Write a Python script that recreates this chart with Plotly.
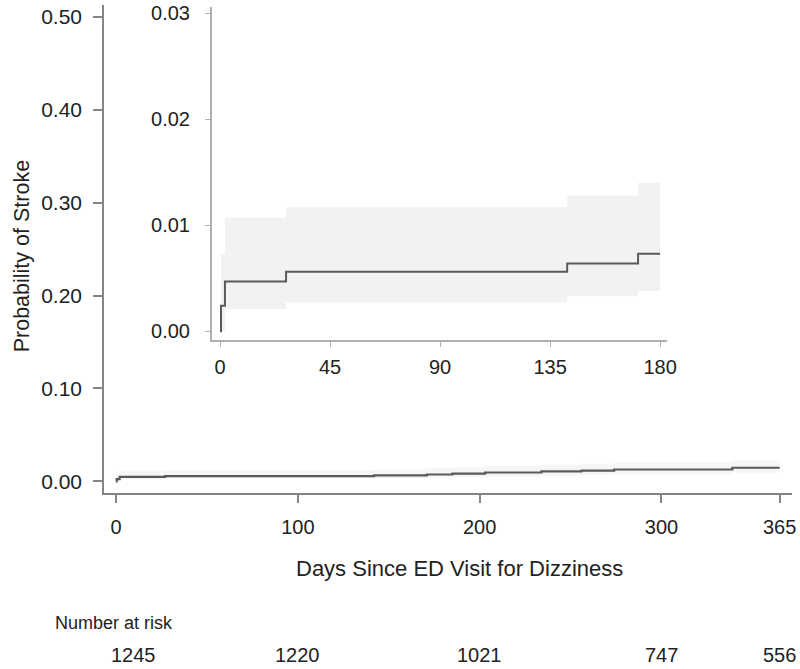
import plotly.graph_objects as go

# Kaplan-Meier style cumulative probability of stroke
days = [0, 0.4, 2, 27, 142, 171, 185, 203, 234, 256, 274, 339, 365]
prob = [0, 0.0024, 0.0047, 0.0056, 0.0064, 0.0073, 0.0083, 0.0095, 0.0106, 0.0114, 0.0127, 0.0146, 0.0146]
ci_low = [0, 0.0, 0.0021, 0.0027, 0.0033, 0.0038, 0.0045, 0.0053, 0.0061, 0.0067, 0.0077, 0.0092, 0.0092]
ci_high = [0, 0.0073, 0.0107, 0.0117, 0.0128, 0.0140, 0.0152, 0.0165, 0.0178, 0.0188, 0.0203, 0.0225, 0.0225]

main_ticks = [0, 100, 200, 300, 365]
main_yticks = [0.0, 0.1, 0.2, 0.3, 0.4, 0.5]
inset_ticks = [0, 45, 90, 135, 180]
inset_yticks = [0.0, 0.01, 0.02, 0.03]
inset_end = 180

risk_days = [0, 100, 200, 300, 365]
risk_n = [1245, 1220, 1021, 747, 556]

# inset data truncated at 180 days
idx = [i for i, d in enumerate(days) if d <= inset_end]
in_days = [days[i] for i in idx] + [inset_end]
in_prob = [prob[i] for i in idx] + [prob[idx[-1]]]
in_low = [ci_low[i] for i in idx] + [ci_low[idx[-1]]]
in_high = [ci_high[i] for i in idx] + [ci_high[idx[-1]]]

FONT = "Liberation Sans, Arial, sans-serif"
TXT = "#222222"
LINE = "#5a5a5a"

fig = go.Figure()

# main band + curve
fig.add_trace(go.Scatter(x=days, y=ci_low, mode="lines", line=dict(width=0, shape="hv"),
                         hoverinfo="skip", showlegend=False, xaxis="x", yaxis="y"))
fig.add_trace(go.Scatter(x=days, y=ci_high, mode="lines", line=dict(width=0, shape="hv"),
                         fill="tonexty", fillcolor="#f6f6f6", hoverinfo="skip",
                         showlegend=False, xaxis="x", yaxis="y"))
fig.add_trace(go.Scatter(x=days, y=prob, mode="lines", line=dict(color=LINE, width=2.2, shape="hv"),
                         showlegend=False, xaxis="x", yaxis="y"))

# inset band + curve
fig.add_trace(go.Scatter(x=in_days, y=in_low, mode="lines", line=dict(width=0, shape="hv"),
                         hoverinfo="skip", showlegend=False, xaxis="x2", yaxis="y2"))
fig.add_trace(go.Scatter(x=in_days, y=in_high, mode="lines", line=dict(width=0, shape="hv"),
                         fill="tonexty", fillcolor="#f2f2f2", hoverinfo="skip",
                         showlegend=False, xaxis="x2", yaxis="y2"))
fig.add_trace(go.Scatter(x=in_days, y=in_prob, mode="lines", line=dict(color=LINE, width=2, shape="hv"),
                         showlegend=False, xaxis="x2", yaxis="y2"))

annotations = [
    dict(text="Days Since ED Visit for Dizziness", x=0.5162, y=-0.1544, xref="paper", yref="paper",
         showarrow=False, xanchor="center", yanchor="middle", font=dict(size=22, color=TXT, family=FONT)),
    dict(text="Probability of Stroke", x=-0.1197, y=0.4843, xref="paper", yref="paper", textangle=-90,
         showarrow=False, xanchor="center", yanchor="middle", font=dict(size=21.5, color=TXT, family=FONT)),
    dict(text="Number at risk", x=-0.0742, y=-0.2672, xref="paper", yref="paper",
         showarrow=False, xanchor="left", yanchor="middle", font=dict(size=18, color=TXT, family=FONT)),
]
for i, (d, n) in enumerate(zip(risk_days, risk_n)):
    annotations.append(dict(text=str(n), x=d, y=-0.3318, xref="x", yref="paper", showarrow=False,
                            xanchor="center", yanchor="middle", xshift=17 if i == 0 else 0,
                            font=dict(size=20, color=TXT, family=FONT)))

fig.update_layout(
    width=800, height=669,
    margin=dict(l=104, r=8.3, t=5, b=176.3),
    paper_bgcolor="white", plot_bgcolor="white",
    font=dict(family=FONT, color=TXT),
    xaxis=dict(domain=[0, 1], range=[-6.6, 371.8], tickmode="array", tickvals=main_ticks,
               showline=True, linecolor="#858585", linewidth=1.5, ticks="outside", ticklen=8,
               tickcolor="#858585", tickwidth=1.5, showgrid=False, zeroline=False, automargin=False,
               ticklabeloverflow="allow",
               ticklabelstandoff=7, tickfont=dict(size=20, color=TXT, family=FONT)),
    yaxis=dict(domain=[0, 1], range=[-0.0126, 0.5129], tickmode="array", tickvals=main_yticks,
               tickformat=".2f", showline=True, linecolor="#858585", linewidth=1.5, ticks="outside",
               ticklen=9, tickcolor="#858585", tickwidth=1.5, showgrid=False, zeroline=False,
               automargin=False, ticklabeloverflow="allow",
               ticklabelstandoff=7, tickfont=dict(size=21, color=TXT, family=FONT)),
    xaxis2=dict(domain=[0.1566, 0.8182], anchor="y2", range=[-3.4, 182.8], tickmode="array",
                tickvals=inset_ticks, showline=True, linecolor="#b0b0b0", linewidth=1.5,
                ticks="outside", ticklen=5, tickcolor="#b0b0b0", showgrid=False, zeroline=False,
                automargin=False, ticklabeloverflow="allow",
                ticklabelstandoff=3, tickfont=dict(size=20, color=TXT, family=FONT)),
    yaxis2=dict(domain=[0.3131, 0.9959], anchor="x2", range=[-0.00085, 0.0306], tickmode="array",
                tickvals=inset_yticks, tickformat=".2f", showline=True, linecolor="#b0b0b0",
                linewidth=1.5, ticks="outside", ticklen=5, tickcolor="#b0b0b0", showgrid=False,
                zeroline=False, automargin=False, ticklabeloverflow="allow", ticklabelstandoff=11,
                tickfont=dict(size=20, color=TXT, family=FONT)),
    annotations=annotations,
)

fig.write_html("out.html", config={"displayModeBar": False},
               post_script="document.body.style.margin='0';document.body.style.overflow='hidden';")
